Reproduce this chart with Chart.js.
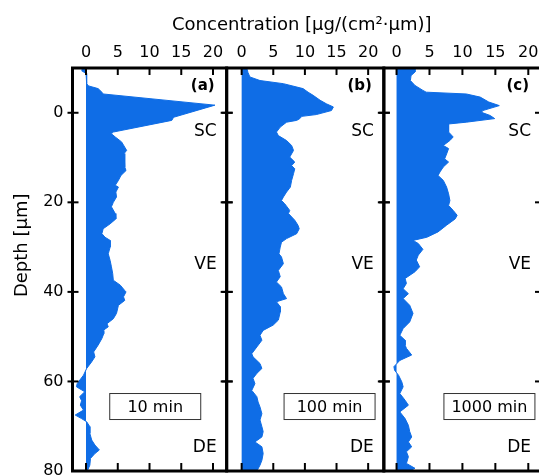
<!DOCTYPE html>
<html>
<head>
<meta charset="utf-8">
<script src="https://cdn.jsdelivr.net/npm/chart.js@4.4.1/dist/chart.umd.min.js"></script>
<style>
  html, body { margin: 0; padding: 0; overflow: hidden; background: #fff; }
  #wrap { width: 539px; height: 476px; overflow: hidden; }
</style>
</head>
<body>
<div id="wrap"><canvas id="chart1" width="545" height="476"></canvas></div>
<script>
// Depth profiles
// ========================================================================
var depthA = [-10, -9.3, -8.8, -6.5, -6.0, -5.4, -4.6, -4.2, -1.7, 1.0, 1.7, 4.3, 4.7, 5.4, 6.5, 8.4, 9.1, 12.1, 12.9, 14.0,
  15.1, 16.2, 16.6, 17.7, 18.8, 20.0, 21.0, 22.5, 23.7, 24.8, 25.9, 27.0, 27.8, 28.5, 30.0, 31.5, 33.0, 34.4, 35.9, 37.4,
  38.5, 39.7, 40.0, 41.1, 41.9, 43.0, 44.8, 46.0, 47.1, 47.8, 48.6, 49.3, 50.4, 51.9, 53.4, 54.5, 55.6, 57.1, 58.6, 60.5,
  61.2, 62.3, 63.4, 64.3, 65.3, 66.4, 67.5, 68.3, 69.0, 70.1, 71.6, 73.1, 74.2, 75.3, 76.1, 77.2, 78.7, 80];
var concA = [-0.5, -0.6, 0.0, 0.1, 0.4, 1.9, 2.5, 2.7, 20.3, 13.8, 13.5, 4.3, 4.0, 4.6, 5.6, 6.4, 6.0, 6.1, 6.3, 5.5,
  5.1, 4.6, 5.1, 4.7, 4.8, 4.3, 4.0, 4.6, 4.7, 3.8, 2.7, 2.5, 3.0, 3.8, 3.8, 3.5, 3.8, 4.0, 4.2, 4.3,
  5.4, 6.1, 6.3, 5.9, 6.1, 5.1, 4.8, 4.3, 3.3, 3.5, 2.7, 2.8, 2.5, 1.9, 1.2, 1.4, 0.9, 0.1, -0.4, -1.4,
  -1.5, -0.2, -1.0, -0.7, -0.9, -0.4, -1.7, -0.7, 0.1, 0.6, 0.6, 0.9, 1.4, 2.1, 1.4, 0.7, 0.6, 0.2];

var depthB = [-10, -9.0, -8.0, -7.2, -6.5, -5.4, -4.6, -3.9, -2.8, -2.0, -1.3, -0.5, 0.4, 0.8, 1.3, 1.7, 2.1, 3.2, 4.3, 5.1,
  6.2, 7.3, 8.4, 9.9, 11.0, 11.8, 12.5, 13.6, 15.1, 16.6, 17.7, 18.8, 19.6, 20.3, 21.8, 22.5, 24.0, 25.1, 25.9, 27.0,
  28.1, 28.9, 30.0, 31.5, 32.2, 33.7, 35.2, 36.6, 37.8, 38.9, 40.4, 41.5, 42.2, 43.3, 44.5, 46.3, 47.4, 48.6, 49.7, 50.8,
  52.3, 53.8, 54.5, 56.0, 57.1, 58.2, 59.3, 60.5, 62.0, 63.4, 64.6, 65.7, 67.2, 68.6, 70.1, 71.2, 72.4, 73.5, 74.6, 76.1,
  77.6, 78.7, 80];
var concB = [0.8, 1.0, 1.3, 2.9, 6.6, 9.7, 10.5, 11.3, 12.4, 13.4, 14.5, 14.2, 11.8, 9.5, 9.2, 8.7, 7.1, 6.1, 5.5, 5.8,
  7.1, 7.9, 8.2, 7.6, 8.4, 7.9, 8.4, 8.2, 7.9, 7.7, 7.1, 6.6, 6.3, 6.8, 7.6, 7.4, 8.4, 8.9, 9.1, 8.7,
  7.1, 6.3, 6.1, 5.9, 6.3, 6.6, 5.8, 6.1, 5.5, 6.3, 6.6, 7.1, 5.5, 6.1, 6.1, 5.8, 5.0, 3.4, 2.9, 3.2,
  2.4, 1.6, 1.8, 2.9, 3.2, 2.4, 1.8, 2.1, 1.6, 2.4, 2.6, 2.9, 3.2, 2.9, 3.2, 3.4, 3.2, 2.1, 3.2, 3.4,
  3.2, 2.9, 2.4];

var depthC = [-10, -9.1, -8.3, -7.2, -6.1, -5.0, -4.6, -4.2, -3.5, -2.4, -1.6, -0.5, -0.1, 0.6, 1.3, 2.1, 2.5, 3.2, 4.3, 5.4,
  6.2, 7.3, 8.0, 9.2, 10.3, 11.0, 12.1, 13.2, 14.0, 15.1, 16.6, 18.1, 19.6, 20.7, 21.8, 22.9, 23.7, 25.1, 26.6, 27.8,
  28.5, 29.2, 30.5, 31.8, 32.9, 34.4, 35.5, 37.0, 38.1, 39.3, 40.4, 41.5, 43.0, 44.8, 46.7, 48.2, 49.7, 50.8, 51.9, 52.6,
  54.1, 55.3, 56.7, 57.5, 58.6, 60.1, 61.2, 62.7, 64.2, 65.3, 66.8, 68.3, 69.8, 71.2, 72.4, 73.5, 74.6, 75.7, 76.8, 78.3,
  79.4, 80];
var concC = [2.8, 2.8, 2.2, 2.1, 2.8, 4.0, 4.5, 10.6, 12.7, 14.0, 15.6, 13.1, 12.9, 14.2, 14.9, 10.6, 7.9, 7.9, 7.9, 8.6,
  8.1, 7.1, 7.9, 7.6, 7.3, 7.9, 7.1, 6.6, 6.3, 7.1, 7.6, 7.9, 8.1, 7.9, 8.6, 9.2, 8.9, 7.6, 6.3, 4.6,
  2.5, 3.3, 4.0, 3.3, 3.0, 3.5, 2.8, 1.3, 1.5, 1.0, 1.8, 1.0, 2.0, 2.5, 2.0, 1.0, 0.5, 1.3, 1.3, 1.5,
  2.3, 0.5, -0.4, -0.3, 0.3, 0.8, 1.0, 0.5, 1.3, 1.8, 0.5, 1.3, 1.8, 2.0, 2.3, 1.8, 2.3, 1.5, 1.8, 1.5,
  2.8, 2.0];

var panelLabels = ['(a)', '(b)', '(c)'];
var timeLabels = ['10 min', '100 min', '1000 min'];
var layerLabels = ['SC', 'VE', 'DE'];
var xTitle = 'Concentration [µg/(cm²·µm)]';
var yTitle = 'Depth [µm]';

var blue = '#0f6de6';
var family = '"DejaVu Sans", sans-serif';

function points(depth, conc) {
  return depth.map(function (d, i) { return {x: conc[i], y: d}; });
}

function profile(depth, conc, axisId) {
  return {
    data: points(depth, conc),
    xAxisID: axisId,
    yAxisID: 'y',
    fill: 'origin',
    backgroundColor: blue,
    borderColor: blue,
    borderWidth: 1,
    pointRadius: 0,
    tension: 0
  };
}

// the three top axes share one stack, so they sit side by side
function concAxis(min, max, weight) {
  return {
    type: 'linear',
    position: 'top',
    stack: 'conc',
    stackWeight: weight,
    min: min,
    max: max,
    grid: { display: false, drawTicks: false },
    border: { display: false },
    ticks: { stepSize: 5, includeBounds: false, padding: 6, maxRotation: 0, autoSkip: false,
             color: '#000', font: { family: family, size: 16 } },
    afterFit: function (s) { s.height = 68; s.paddingLeft = 0; s.paddingRight = 0; }
  };
}

// frames, inward ticks and the labels in each panel
var framePlugin = {
  id: 'frames',
  afterDatasetsDraw: function (chart) {
    var ctx = chart.ctx, area = chart.chartArea, y = chart.scales.y;
    var boxCenters = [10.9, 13.9, 14.1];
    var layerDepths = [4.3, 34, 74.7];
    function seg(x1, y1, x2, y2) {
      ctx.beginPath(); ctx.moveTo(x1, y1); ctx.lineTo(x2, y2); ctx.stroke();
    }
    ['xa', 'xb', 'xc'].forEach(function (id, p) {
      var s = chart.scales[id];
      ctx.save();
      ctx.strokeStyle = '#000';
      ctx.lineWidth = 2;
      s.ticks.forEach(function (t) {
        var px = s.getPixelForValue(t.value);
        seg(px, area.top, px, area.top + 7);
        seg(px, area.bottom, px, area.bottom - 8);
      });
      y.ticks.forEach(function (t) {
        if (t.value >= 80) return;
        var py = y.getPixelForValue(t.value);
        seg(s.left - 5, py, s.left + 6, py);
        seg(s.right - 6, py, s.right + 6, py);
      });
      ctx.lineWidth = 3;
      ctx.strokeRect(s.left, area.top, s.right - s.left, area.bottom - area.top);

      ctx.fillStyle = '#000';
      ctx.textAlign = 'right';
      ctx.textBaseline = 'middle';
      ctx.font = 'bold 15px ' + family;
      ctx.fillText(panelLabels[p], s.right - 12, y.getPixelForValue(-6));
      ctx.font = '17px ' + family;
      layerLabels.forEach(function (t, i) {
        ctx.fillText(t, s.right - 10, y.getPixelForValue(layerDepths[i]));
      });

      var cx = s.getPixelForValue(boxCenters[p]);
      var cy = y.getPixelForValue(65.6);
      ctx.lineWidth = 1;
      ctx.strokeStyle = '#333';
      ctx.strokeRect(cx - 45.5, cy - 13, 91, 26);
      ctx.textAlign = 'center';
      ctx.font = '16px ' + family;
      ctx.fillText(timeLabels[p], cx, cy + 1);
      ctx.restore();
    });

    // axis titles
    ctx.save();
    ctx.fillStyle = '#000';
    ctx.font = '18px ' + family;
    ctx.textAlign = 'center';
    ctx.textBaseline = 'middle';
    ctx.fillText(xTitle, (area.left + area.right) / 2 - 5, 25);
    ctx.translate(22, area.top + (area.bottom - area.top) * 0.44);
    ctx.rotate(-Math.PI / 2);
    ctx.fillText(yTitle, 0, 0);
    ctx.restore();
  }
};

var chartEl = document.getElementById('chart1');
new Chart(chartEl, {
  type: 'line',
  data: {
    datasets: [
      profile(depthA, concA, 'xa'),
      profile(depthB, concB, 'xb'),
      profile(depthC, concC, 'xc')
    ]
  },
  options: {
    responsive: false,
    animation: false,
    indexAxis: 'y',
    events: [],
    layout: { padding: { top: 0, left: 0, right: 4, bottom: 5 } },
    plugins: {
      legend: { display: false },
      tooltip: { enabled: false }
    },
    scales: {
      // top boxes are laid out in reverse, so (c) is listed first
      xc: concAxis(-1.93, 21.93, 157),
      xb: concAxis(-2.37, 22.48, 157),
      xa: concAxis(-2.13, 22.15, 154),
      y: {
        type: 'linear',
        position: 'left',
        min: -10,
        max: 80,
        reverse: true,
        grid: { display: false, drawTicks: false },
        border: { display: false },
        ticks: { stepSize: 20, includeBounds: false, padding: 9, color: '#000',
                 font: { family: family, size: 16 } },
        afterFit: function (s) { s.width = 72.5; s.paddingTop = 0; s.paddingBottom = 0; }
      }
    }
  },
  plugins: [framePlugin]
});
</script>
</body>
</html>
